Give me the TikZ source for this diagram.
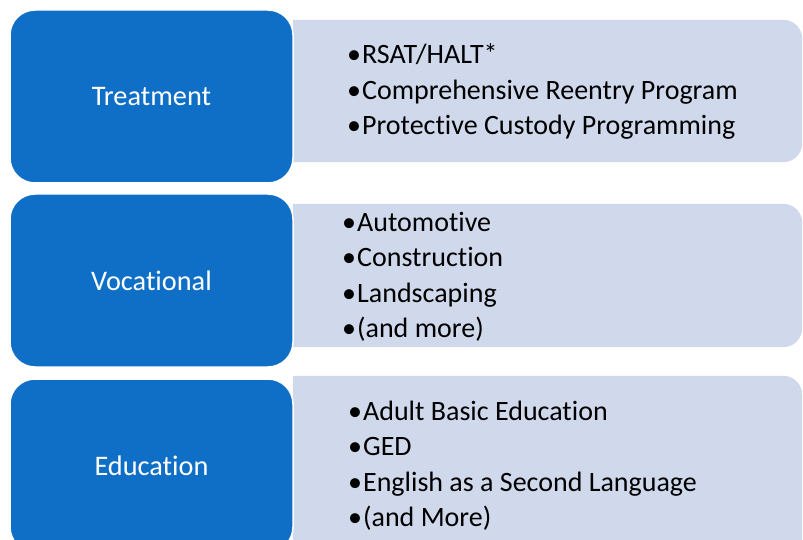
\documentclass[tikz,border=0pt]{standalone}
\usepackage{fontspec}
\setmainfont[RawFeature={-liga;-dlig;-clig}]{Carlito}
\definecolor{boxblue}{HTML}{0F6FC6}
\definecolor{boxlight}{HTML}{D0D9EB}
\newcommand{\itemlist}[1]{\parbox[t]{440pt}{\raggedright\fontsize{28}{35.5}\selectfont #1}}
\newcommand{\bul}{\textbullet\hspace{1pt}}
\begin{document}
\begin{tikzpicture}[x=1pt,y=-1pt,
  catbox/.style={fill=boxblue, draw=white, line width=1.5pt, rounded corners=25pt,
    minimum width=283pt, minimum height=173pt, text=white, inner sep=0,
    font=\fontsize{28.3}{33}\selectfont},
  listbox/.style={inner sep=0, minimum width=509pt},
  listfill/.style={fill=boxlight},
  listtext/.style={anchor=base west, inner sep=0, text=black}]
\useasboundingbox (0,0) rectangle (803,540);
\clip (0,0) rectangle (803,540);
% light list boxes (square left side, rounded right side)
\node[listbox, minimum height=142pt] (l1) at (547.5,91) {};
\node[listbox, minimum height=143pt] (l2) at (547.5,275.5) {};
\node[listbox, minimum height=184pt] (l3) at (547.5,468) {};
\foreach \b in {l1,l2,l3}{
  \fill[listfill] (\b.south west) -- (\b.north west) [rounded corners=19pt] -- (\b.north east) -- (\b.south east) [sharp corners] -- cycle;
}
% blue category boxes
\node[catbox] (c1) at (151.5,96.5) {Treatment};
\node[catbox] (c2) at (151.5,280.5) {Vocational};
\node[catbox] (c3) at (151.5,465.5) {Education};
% lists
\node[listtext] (t1) at (347,64) {\itemlist{\bul RSAT/HALT*\\ \bul Comprehensive Reentry Program\\ \bul Protective Custody Programming}};
\node[listtext] (t2) at (342,231) {\itemlist{\bul Automotive\\ \bul Construction\\ \bul Landscaping\\ \bul (and more)}};
\node[listtext] (t3) at (348,420) {\itemlist{\bul Adult Basic Education\\ \bul GED\\ \bul English as a Second Language\\ \bul (and More)}};
\end{tikzpicture}
\end{document}
